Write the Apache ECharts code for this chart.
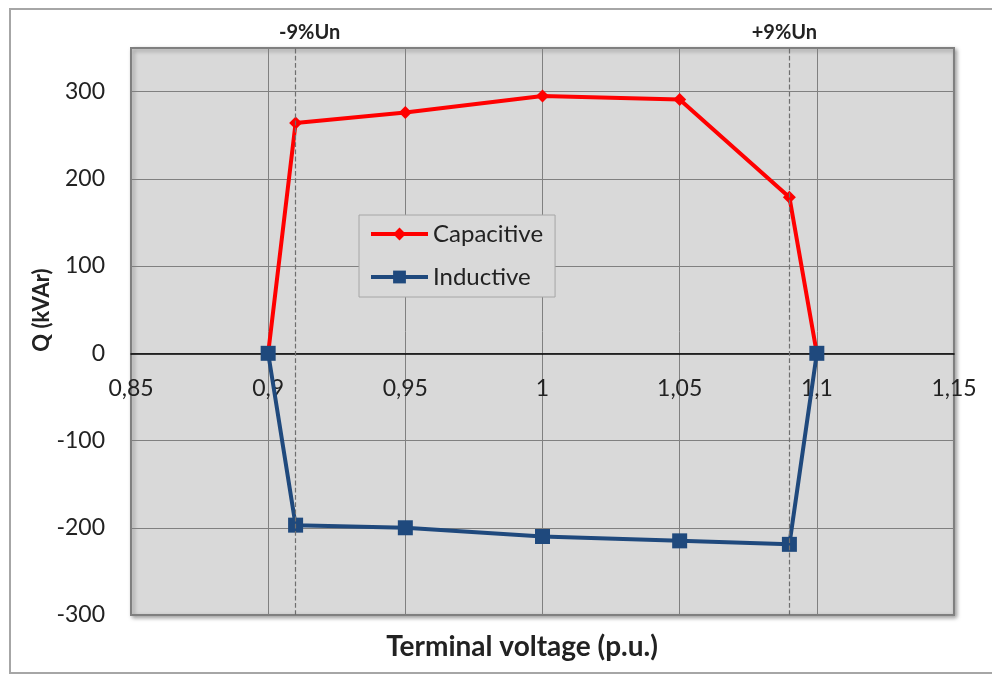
<!DOCTYPE html>
<html>
<head>
<meta charset="utf-8">
<script src="https://cdn.jsdelivr.net/npm/echarts@6/dist/echarts.min.js"></script>
<style>
  html, body { margin: 0; padding: 0; background: #fff; }
  #main { width: 992px; height: 675px; }
</style>
</head>
<body>
<div id="main"></div>
<script>
// terminal voltage (p.u.) and reactive power limits (kVAr)
var voltage = [0.9, 0.91, 0.95, 1, 1.05, 1.09, 1.1];
var capacitive = [0, 264, 276, 295, 291, 179, 0];
var inductive = [0, -197, -200, -210, -215, -219, 0];
var limitLines = [0.91, 1.09];
var limitLabels = ['-9%Un', '+9%Un'];
var limitShift = [14, -5];

var font = 'Lato, "Open Sans", sans-serif';

function pairs(xs, ys) {
    var out = [];
    for (var i = 0; i < xs.length; i++) { out.push([xs[i], ys[i]]); }
    return out;
}

var chart = echarts.init(document.getElementById('main'));
chart.setOption({
    animation: false,
    textStyle: { fontFamily: font },
    graphic: [
        { type: 'rect', shape: { x: 10, y: 9, width: 990, height: 664 },
          style: { fill: 'none', stroke: '#a6a6a6', lineWidth: 2 }, z: -10 },
        { type: 'text', x: 522, y: 647,
          style: { text: 'Terminal voltage (p.u.)', font: 'bold 28px ' + font, fill: '#222',
                   textAlign: 'center', textVerticalAlign: 'middle' } },
        { type: 'text', x: 42, y: 310, rotation: Math.PI / 2,
          style: { text: 'Q (kVAr)', font: 'bold 22px ' + font, fill: '#222',
                   textAlign: 'center', textVerticalAlign: 'middle' } }
    ],
    grid: {
        left: 131, right: 38, top: 48, bottom: 60,
        show: true, backgroundColor: '#d9d9d9', borderColor: '#7f7f7f', borderWidth: 2,
        shadowColor: 'rgba(0,0,0,0.35)', shadowBlur: 4, shadowOffsetX: 2, shadowOffsetY: 2
    },
    legend: {
        left: 359, top: 215, orient: 'vertical',
        itemWidth: 57, itemHeight: 16, itemGap: 19,
        backgroundColor: '#d9d9d9', borderColor: '#a6a6a6', borderWidth: 1,
        padding: [7, 12, 8, 10],
        lineStyle: { width: 4 },
        textStyle: { fontSize: 24, color: '#222', fontFamily: font },
        data: ['Capacitive', 'Inductive']
    },
    xAxis: {
        type: 'value', min: 0.85, max: 1.15, interval: 0.05,
        axisLine: { onZero: true, lineStyle: { color: '#000', width: 1.5 } },
        axisTick: { show: false },
        axisLabel: {
            margin: -238, fontSize: 23, color: '#222',
            formatter: function (v) { return String(Math.round(v * 100) / 100).replace('.', ','); }
        },
        splitLine: { show: true, lineStyle: { color: '#808080', width: 1 } }
    },
    yAxis: {
        type: 'value', min: -300, max: 350, interval: 100,
        axisLine: { show: false }, axisTick: { show: false },
        axisLabel: {
            margin: 26, fontSize: 23, color: '#222',
            formatter: function (v) { return v > 300 ? '' : String(v); }
        },
        splitLine: { show: true, lineStyle: { color: '#808080', width: 1 } }
    },
    series: [
        {
            name: 'Capacitive', type: 'line', data: pairs(voltage, capacitive),
            symbol: 'diamond', symbolSize: 13, color: '#ff0000',
            lineStyle: { width: 4, color: '#ff0000' },
            markLine: {
                silent: true, symbol: 'none',
                lineStyle: { type: 'dashed', color: '#6f6f6f', width: 1.2 },
                label: {
                    position: 'end', distance: 5, fontSize: 20, fontWeight: 'bold', color: '#222'
                },
                data: limitLines.map(function (v, i) {
                    return { xAxis: v, label: { formatter: limitLabels[i], offset: [limitShift[i], 0] } };
                })
            }
        },
        {
            name: 'Inductive', type: 'line', data: pairs(voltage, inductive),
            symbol: 'rect', symbolSize: 15, color: '#1f497d',
            lineStyle: { width: 4, color: '#1f497d' }
        }
    ]
});
</script>
</body>
</html>
